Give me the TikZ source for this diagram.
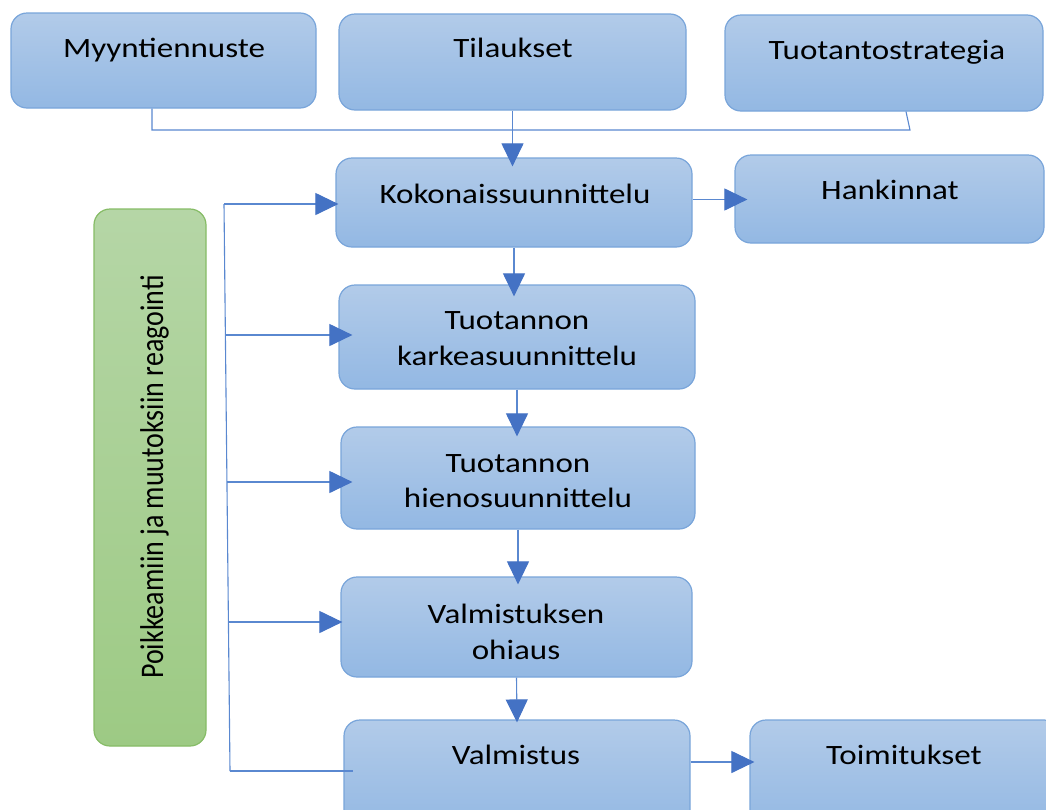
\documentclass[tikz,border=0pt]{standalone}
\usepackage{fontspec}
\newfontfamily\hfont{Carlito}[FakeStretch=1.18]
\newfontfamily\vfont{Carlito}[FakeStretch=0.848]
\usetikzlibrary{arrows.meta}
\definecolor{boxtop}{HTML}{B2CBE9}
\definecolor{boxbot}{HTML}{93B8E3}
\definecolor{boxline}{HTML}{79A5DA}
\definecolor{gtop}{HTML}{B5D6A6}
\definecolor{gbot}{HTML}{9DCA84}
\definecolor{gline}{HTML}{86BC66}
\definecolor{conn}{HTML}{4472C4}
\definecolor{connl}{HTML}{5A88D0}
\begin{document}
\begin{tikzpicture}[x=1pt,y=-1pt,
  box/.style={draw=boxline, line width=1.2pt, rounded corners=16pt, top color=boxtop, bottom color=boxbot, inner sep=0pt},
  gbox/.style={draw=gline, line width=1.2pt, rounded corners=16pt, top color=gtop, bottom color=gbot, inner sep=0pt},
  txt/.style={font=\hfont\fontsize{28}{36}\selectfont, anchor=base, inner sep=0pt, text=black},
  conline/.style={draw=connl, line width=1.1pt},
  arr/.style={conline, -{Triangle[length=23pt,width=22pt,color=conn]}}]
\fill[white] (0,0) rectangle (1046,809);
\clip (0,0) rectangle (1046,809);
% boxes
\node[box, minimum width=305pt, minimum height=95pt] (myy) at (163.5,60.5) {};
\node[box, minimum width=347pt, minimum height=96pt] (til) at (512.5,62) {};
\node[box, minimum width=318pt, minimum height=96pt] (tuo) at (884,63) {};
\node[box, minimum width=356pt, minimum height=89pt] (koko) at (514,202.5) {};
\node[box, minimum width=309pt, minimum height=88pt] (hank) at (889.5,199) {};
\node[box, minimum width=356pt, minimum height=104pt] (karkea) at (517,337) {};
\node[box, minimum width=354pt, minimum height=102pt] (hieno) at (518,478) {};
\node[box, minimum width=351pt, minimum height=100pt] (ohj) at (516.5,627) {};
\node[box, minimum width=346pt, minimum height=110pt] (valm) at (517,775) {};
\node[box, minimum width=310pt, minimum height=110pt] (toim) at (905,775) {};
\node[gbox, minimum width=112pt, minimum height=537pt] (green) at (150,477.5) {};
% texts
\node[txt] (myy-t) at (164,57) {Myyntiennuste};
\node[txt] (til-t) at (513,57) {Tilaukset};
\node[txt] (tuo-t) at (887,59) {Tuotantostrategia};
\node[txt] (koko-t) at (515,203) {Kokonaissuunnittelu};
\node[txt] (hank-t) at (890,199) {Hankinnat};
\node[txt] (karkea-t1) at (517,329) {Tuotannon};
\node[txt] (karkea-t2) at (517,365) {karkeasuunnittelu};
\node[txt] (hieno-t1) at (518,472) {Tuotannon};
\node[txt] (hieno-t2) at (518,507) {hienosuunnittelu};
\node[txt] (ohj-t1) at (516,623) {Valmistuksen};
\node[txt] (ohj-t2) at (516,659) {ohiaus};
\node[txt] (valm-t) at (516,764) {Valmistus};
\node[txt] (toim-t) at (904,764) {Toimitukset};
\node[font=\vfont\fontsize{33}{40}\selectfont, rotate=90, anchor=base, inner sep=0pt] (green-t) at (163,477) {Poikkeamiin ja muutoksiin reagointi};
% top bracket
\coordinate (bL) at (152,130);
\coordinate (bR) at (910,130);
\draw[conline] (myy.south -| bL) -- (bL) -- (bR) -- ([xshift=-4pt]tuo.south -| bR);
\draw[arr, shorten >=-9pt] (til.south) -- (til.south |- koko.north);
% left bus
\coordinate (v1) at (224,204);
\coordinate (v2) at (225.4,335);
\coordinate (v3) at (226.9,482);
\coordinate (v4) at (228.4,622);
\coordinate (v5) at (230,771);
\draw[conline] (v1) -- (v5);
\draw[arr, shorten >=-3pt] (v1) -- (v1 -| koko.west);
\draw[arr, shorten >=-14pt] (v2) -- (v2 -| karkea.west);
\draw[arr, shorten >=-12pt] (v3) -- (v3 -| hieno.west);
\draw[arr, shorten >=-2pt] (v4) -- (v4 -| ohj.west);
\draw[conline, shorten >=-10pt] (v5) -- (v5 -| valm.west);
% vertical flow
\draw[arr, shorten >=-12pt] (koko.south) -- (koko.south |- karkea.north);
\draw[arr, shorten >=-10pt] (karkea.south) -- (karkea.south |- hieno.north);
\draw[arr, shorten >=-8pt] (hieno.south) -- (hieno.south |- ohj.north);
\draw[arr, shorten >=-3pt] (ohj.south) -- (valm.north);
% side arrows
\draw[arr, shorten >=-13pt] ([yshift=3pt]koko.east) -- ([yshift=3pt]koko.east -| hank.west);
\draw[arr, shorten >=-5pt] ([yshift=13pt]valm.east) -- ([yshift=13pt]valm.east -| toim.west);
\end{tikzpicture}
\end{document}
